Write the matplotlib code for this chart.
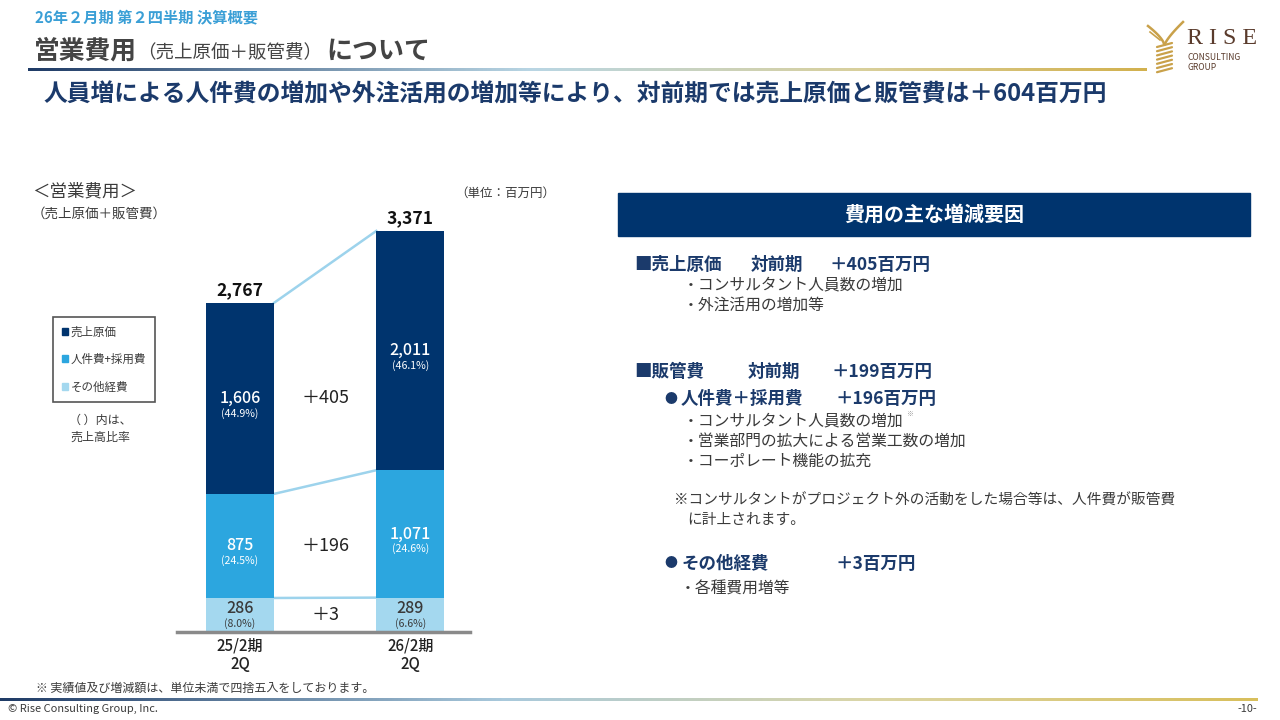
import numpy as np
import matplotlib.pyplot as plt
from matplotlib.colors import LinearSegmentedColormap
from matplotlib.patches import Patch, Rectangle

plt.rcParams['font.family'] = ['Noto Sans CJK JP', 'DejaVu Sans']

# データ（単位：百万円）
periods = ['25/2期\n2Q', '26/2期\n2Q']
cost_of_sales = [1606, 2011]
personnel = [875, 1071]
other = [286, 289]
cost_pct = ['(44.9%)', '(46.1%)']
personnel_pct = ['(24.5%)', '(24.6%)']
other_pct = ['(8.0%)', '(6.6%)']
totals = [2767, 3371]
series_names = ['売上原価', '人件費+採用費', 'その他経費']

NAVY = '#00346e'
MID = '#2ca6df'
LIGHT = '#a4d8ef'
LINE = '#9dd3ec'
TXT = '#3a3a3a'
HEAD = '#1b3a6b'


def pt(px):
    return px * 0.72


fig = plt.figure(figsize=(12.8, 7.2), dpi=100)
bg = fig.add_axes([0, 0, 1, 1])
bg.axis('off')


def grad_line(x0, x1, y, colors, lw):
    cmap = LinearSegmentedColormap.from_list('g', colors)
    img = cmap(np.linspace(0, 1, 512))[np.newaxis, :, :]
    bg.imshow(img, extent=(x0, x1, y + lw / 2, y - lw / 2), aspect='auto',
              interpolation='bilinear')


# ヘッダー
bg.text(35, 17, '26年２月期 第２四半期 決算概要', fontsize=pt(15.2), color='#3a9fd6',
        fontweight='bold', va='center')
bg.text(34, 51, '営業費用', fontsize=pt(25.8), color='#444444', fontweight='bold', va='center')
bg.text(137, 53, '（売上原価＋販管費）', fontsize=pt(18.5), color='#444444', va='center')
bg.text(326, 51, 'について', fontsize=pt(26), color='#444444', fontweight='bold', va='center')
grad_line(28, 1147, 70, [(0.0, '#1f3b66'), (0.45, '#b9d6e4'), (0.75, '#d9cf9a'), (1.0, '#d2b14e')], 3)
bg.text(44, 95, '人員増による人件費の増加や外注活用の増加等により、対前期では売上原価と販管費は＋604百万円',
        fontsize=pt(23.8), color=HEAD, fontweight='bold', va='center')

# ロゴ
gold = '#c9a14a'
for i in range(7):
    y = 44 + i * 4.2
    bg.plot([1157, 1172], [y + 3, y - 1], color=gold, lw=1.6, solid_capstyle='round')
t = np.linspace(0, 1, 30)
bg.plot(1164 - 16 * t, 44 - 18 * t ** 0.7, color=gold, lw=1.8)
bg.plot(1165 + 18 * t, 44 - 22 * t ** 0.8, color=gold, lw=1.8)
bg.plot(1160 - 10 * t, 40 - 8 * t, color=gold, lw=1.2)
bg.text(1222, 38, 'R I S E', fontsize=pt(24), color='#5a3b2c', family='Liberation Serif',
        ha='center', va='center')
bg.text(1188, 57, 'CONSULTING', fontsize=pt(8.5), color='#5a3b2c', va='center')
bg.text(1188, 67, 'GROUP', fontsize=pt(8.5), color='#5a3b2c', va='center')

# グラフ見出し
bg.text(32, 191, '＜営業費用＞', fontsize=pt(17.5), color=TXT, va='center')
bg.text(32, 214, '（売上原価＋販管費）', fontsize=pt(13.5), color=TXT, va='center')
bg.text(505, 193, '（単位：百万円）', fontsize=pt(12.5), color=TXT, va='center', ha='center')

# 積み上げ棒グラフ
ax = fig.add_axes([177 / 1280, (720 - 632) / 720, 293 / 1280, 432 / 720])
ax.patch.set_alpha(0)
x = np.arange(len(periods))
w = 0.4
segments = [cost_of_sales, personnel, other]
pcts = [cost_pct, personnel_pct, other_pct]
colors = [NAVY, MID, LIGHT]
bottoms = [np.array(other) + np.array(personnel), np.array(other), np.zeros(2)]
txt_colors = ['white', 'white', TXT]
val_off = [0, 0, 6]
pct_off = [-15, -15, -9]

for vals, bot, col, pc, tc, vo, po in zip(segments, bottoms, colors, pcts, txt_colors, val_off, pct_off):
    ax.bar(x, vals, bottom=bot, width=w, color=col, zorder=2)
    for xi, v, b, p in zip(x, vals, bot, pc):
        yc = b + v / 2
        ax.annotate(f'{v:,}', (xi, yc), xytext=(0, pt(vo)), textcoords='offset points',
                    ha='center', va='center', fontsize=pt(16), fontweight='medium',
                    color=tc, zorder=3)
        ax.annotate(p, (xi, yc), xytext=(0, pt(po)), textcoords='offset points',
                    ha='center', va='center', fontsize=pt(10.5), color=tc, zorder=3)

# 接続線と増減
tops = [np.array(totals), np.array(other) + np.array(personnel), np.array(other)]
for tp in tops:
    ax.plot([x[0] + w / 2, x[1] - w / 2], [tp[0], tp[1]], color=LINE, lw=1.8, zorder=1)
for vals, bot in zip(segments, bottoms):
    d = vals[1] - vals[0]
    ax.text(0.5, bot[0] + vals[0] / 2, f'＋{d:,}', ha='center', va='center',
            fontsize=pt(18), color='#222222')

for xi, tot in zip(x, totals):
    ax.annotate(f'{tot:,}', (xi, tot), xytext=(0, pt(13)), textcoords='offset points',
                ha='center', va='center', fontsize=pt(17.5), fontweight='bold', color='#111111')

ax.set_xlim(-0.37, 1.35)
ax.set_ylim(0, 3631)
for s in ['top', 'right', 'left']:
    ax.spines[s].set_visible(False)
ax.spines['bottom'].set_color('#8a8a8a')
ax.spines['bottom'].set_linewidth(2.5)
ax.set_yticks([])
ax.set_xticks(x)
ax.set_xticklabels(periods, fontsize=pt(15), fontweight='medium', color='#222222',
                   linespacing=1.1)
ax.tick_params(axis='x', length=0, pad=4)

# 凡例
handles = [Patch(color=c) for c in colors]
leg = fig.legend(handles, series_names, loc='upper left', bbox_to_anchor=(53 / 1280, 1 - 317 / 720),
                 fontsize=pt(11.5), handlelength=0.55, handleheight=0.55, handletextpad=0.25,
                 labelspacing=1.25, borderpad=0.75, fancybox=False, edgecolor='#555555',
                 framealpha=1, borderaxespad=0)
leg.get_frame().set_linewidth(1.2)
for t_ in leg.get_texts():
    t_.set_color(TXT)
bg.text(100, 420, '（ ）内は、', fontsize=pt(12), color=TXT, ha='center', va='center')
bg.text(100, 437, '売上高比率', fontsize=pt(12), color=TXT, ha='center', va='center')

# 右パネル
bg.add_patch(Rectangle((618, 193), 632, 43, color=NAVY))
bg.text(934, 214, '費用の主な増減要因', fontsize=pt(20), color='white', fontweight='bold',
        ha='center', va='center')

hs = pt(17.5)
bs = pt(15.8)
ns = pt(14.7)
bg.text(634, 265, '■売上原価', fontsize=hs, color=HEAD, fontweight='bold', va='center')
bg.text(751, 265, '対前期', fontsize=hs, color=HEAD, fontweight='bold', va='center')
bg.text(830, 265, '＋405百万円', fontsize=hs, color=HEAD, fontweight='bold', va='center')
bg.text(683, 285, '・コンサルタント人員数の増加', fontsize=bs, color=TXT, va='center')
bg.text(683, 305, '・外注活用の増加等', fontsize=bs, color=TXT, va='center')

bg.text(634, 372, '■販管費', fontsize=hs, color=HEAD, fontweight='bold', va='center')
bg.text(748, 372, '対前期', fontsize=hs, color=HEAD, fontweight='bold', va='center')
bg.text(832, 372, '＋199百万円', fontsize=hs, color=HEAD, fontweight='bold', va='center')
bg.text(664, 399, '●', fontsize=pt(13), color=HEAD, va='center')
bg.text(681, 399, '人件費＋採用費', fontsize=hs, color=HEAD, fontweight='bold', va='center')
bg.text(835, 399, '＋196百万円', fontsize=hs, color=HEAD, fontweight='bold', va='center')
bg.text(683, 421, '・コンサルタント人員数の増加', fontsize=bs, color=TXT, va='center')
bg.text(906, 414, '※', fontsize=pt(7), color='#999999', va='center')
bg.text(683, 441, '・営業部門の拡大による営業工数の増加', fontsize=bs, color=TXT, va='center')
bg.text(683, 461, '・コーポレート機能の拡充', fontsize=bs, color=TXT, va='center')
bg.text(674, 501, '※コンサルタントがプロジェクト外の活動をした場合等は、人件費が販管費',
        fontsize=ns, color=TXT, va='center')
bg.text(687, 520, 'に計上されます。', fontsize=ns, color=TXT, va='center')
bg.text(664, 564, '●', fontsize=pt(13), color=HEAD, va='center')
bg.text(681, 564, 'その他経費', fontsize=hs, color=HEAD, fontweight='bold', va='center')
bg.text(836, 564, '＋3百万円', fontsize=hs, color=HEAD, fontweight='bold', va='center')
bg.text(680, 589, '・各種費用増等', fontsize=bs, color=TXT, va='center')

# フッター
bg.text(36, 688, '※ 実績値及び増減額は、単位未満で四捨五入をしております。', fontsize=pt(12),
        color=TXT, va='center')
grad_line(0, 1258, 700, [(0.0, '#1f3b66'), (0.4, '#a9c9dc'), (0.7, '#dcd6a6'), (1.0, '#d8bf5c')], 2.5)
bg.text(8, 709, '© Rise Consulting Group, Inc.', fontsize=pt(11), color=TXT, va='center')
bg.text(1257, 709, '-10-', fontsize=pt(11), color=TXT, va='center', ha='right')

bg.set_xlim(0, 1280)
bg.set_ylim(720, 0)
fig.savefig('out.png', dpi=100)
